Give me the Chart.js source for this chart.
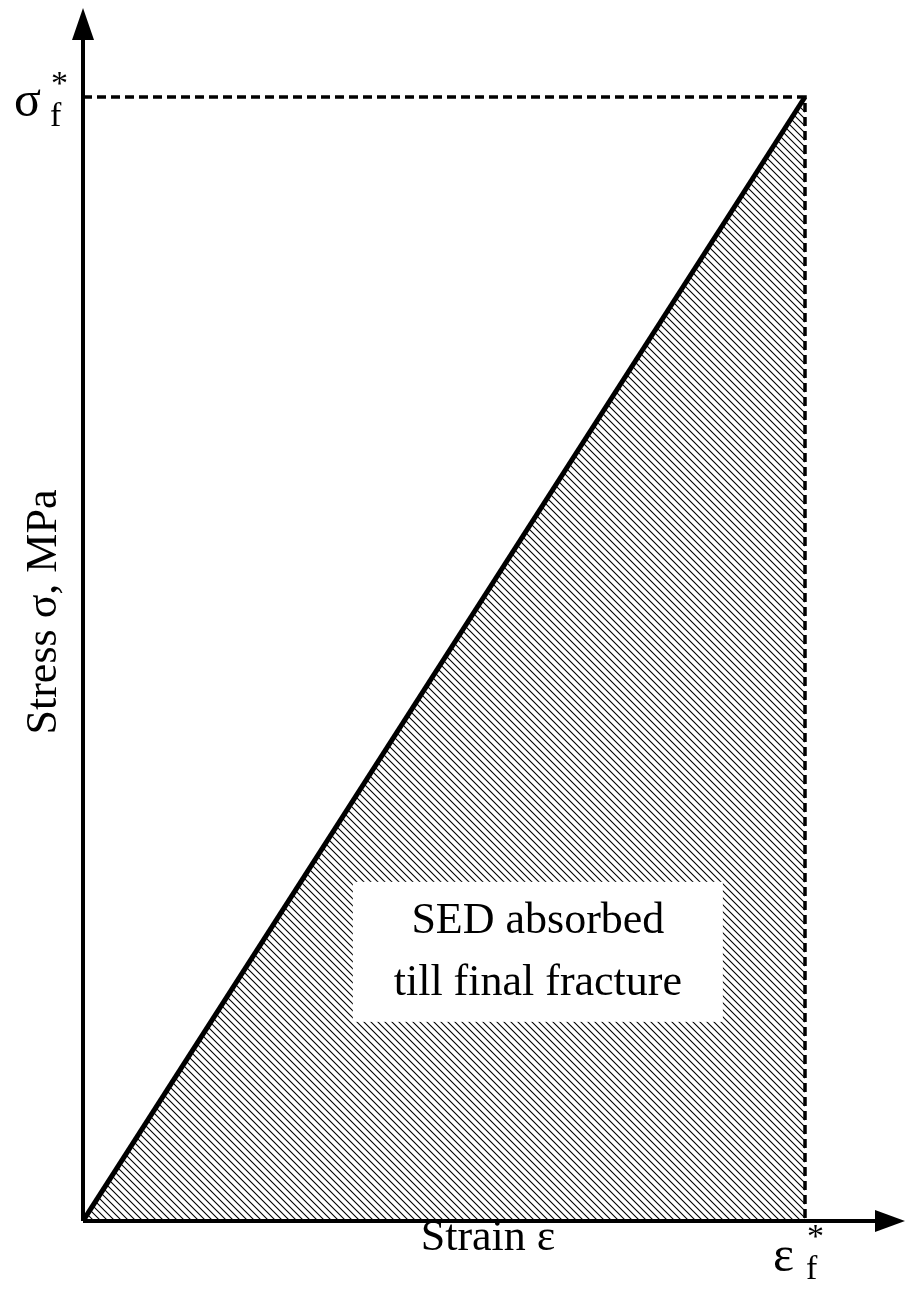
<!DOCTYPE html>
<html><head><meta charset="utf-8">
<script src="https://cdn.jsdelivr.net/npm/chart.js@4"></script>
<style>html,body{margin:0;padding:0;background:#fff}#w{width:924px;height:1295px}</style>
</head><body><div id="w"><canvas id="c"></canvas></div>
<script>
const strain = [0, 1];
const stress = [0, 1];
const frameX = [0, 1, 1];
const frameY = [1, 1, 0];
const xTickLabel = 'ε';
const yTickLabel = 'σ';
const xTitle = 'Strain ε';
const yTitle = 'Stress σ, MPa';
const annotation = ['SED absorbed', 'till final fracture'];

const pc = document.createElement('canvas'); pc.width = 7; pc.height = 7;
const p = pc.getContext('2d'); p.strokeStyle = '#000'; p.lineWidth = 1.1;
p.beginPath(); p.moveTo(-1,-1); p.lineTo(8,8); p.moveTo(-1,6); p.lineTo(1,8); p.moveTo(6,-1); p.lineTo(8,1); p.stroke();
const hatch = p.createPattern(pc, 'repeat');

const SERIF = '"Liberation Serif","DejaVu Serif",serif';
const deco = {
  id: 'deco',
  afterDatasetsDraw(ch) {
    const c = ch.ctx, a = ch.chartArea, xs = ch.scales.x, ys = ch.scales.y;
    const ox = xs.getPixelForValue(0), oy = ys.getPixelForValue(0);
    c.save();
    c.strokeStyle = '#000'; c.fillStyle = '#000'; c.lineWidth = 4;
    c.beginPath(); c.moveTo(ox, oy); c.lineTo(a.right - 25, oy); c.moveTo(ox, oy); c.lineTo(ox, a.top + 25); c.stroke();
    c.beginPath(); c.moveTo(a.right, oy); c.lineTo(a.right - 30, oy - 11); c.lineTo(a.right - 30, oy + 11); c.closePath(); c.fill();
    c.beginPath(); c.moveTo(ox, a.top); c.lineTo(ox - 11, a.top + 32); c.lineTo(ox + 11, a.top + 32); c.closePath(); c.fill();
    // annotation box
    const cx = xs.getPixelForValue(0.63), cy = ys.getPixelForValue(0.235);
    c.font = '44px ' + SERIF; c.textAlign = 'center'; c.textBaseline = 'middle';
    c.fillStyle = '#fff'; c.fillRect(cx - 185, cy - 75, 370, 140);
    c.fillStyle = '#000';
    c.fillText(annotation[0], cx, cy - 35); c.fillText(annotation[1], cx, cy + 27);
    // axis titles
    c.fillText(xTitle, 488, 1238);
    c.save(); c.translate(44, 612); c.rotate(-Math.PI/2); c.fillText(yTitle, 0, 0); c.restore();
    // tick labels
    const px = xs.getPixelForValue(1), py = ys.getPixelForValue(1);
    c.font = '50px ' + SERIF; c.textAlign = 'left';
    c.fillText(yTickLabel, 14, py + 6);
    c.font = '34px ' + SERIF; c.fillText('f', 50, py + 20); c.fillText('*', 51, py - 12);
    c.font = '50px ' + SERIF; c.fillText(xTickLabel, px - 32, 1258);
    c.font = '34px ' + SERIF; c.fillText('f', px + 1, 1270); c.fillText('*', px + 2, 1238);
    c.restore();
  }
};

new Chart(document.getElementById('c'), {
  type: 'scatter',
  data: { datasets: [
    { data: strain.map((v,i)=>({x:v,y:stress[i]})), showLine: true, borderColor: '#000', borderWidth: 5, pointRadius: 0, fill: 'origin', backgroundColor: hatch },
    { data: frameX.map((v,i)=>({x:v,y:frameY[i]})), showLine: true, borderColor: '#000', borderWidth: 3.5, borderDash: [9,5], pointRadius: 0, fill: false }
  ]},
  options: {
    responsive: true, maintainAspectRatio: false, animation: false,
    layout: { padding: { left: 83, top: 8, right: 19, bottom: 74 } },
    plugins: { legend: { display: false }, tooltip: { enabled: false } },
    scales: {
      x: { type: 'linear', display: false, min: 0, max: 822/722 },
      y: { type: 'linear', display: false, min: 0, max: 1213/1124 }
    }
  },
  plugins: [deco]
});
</script></body></html>
